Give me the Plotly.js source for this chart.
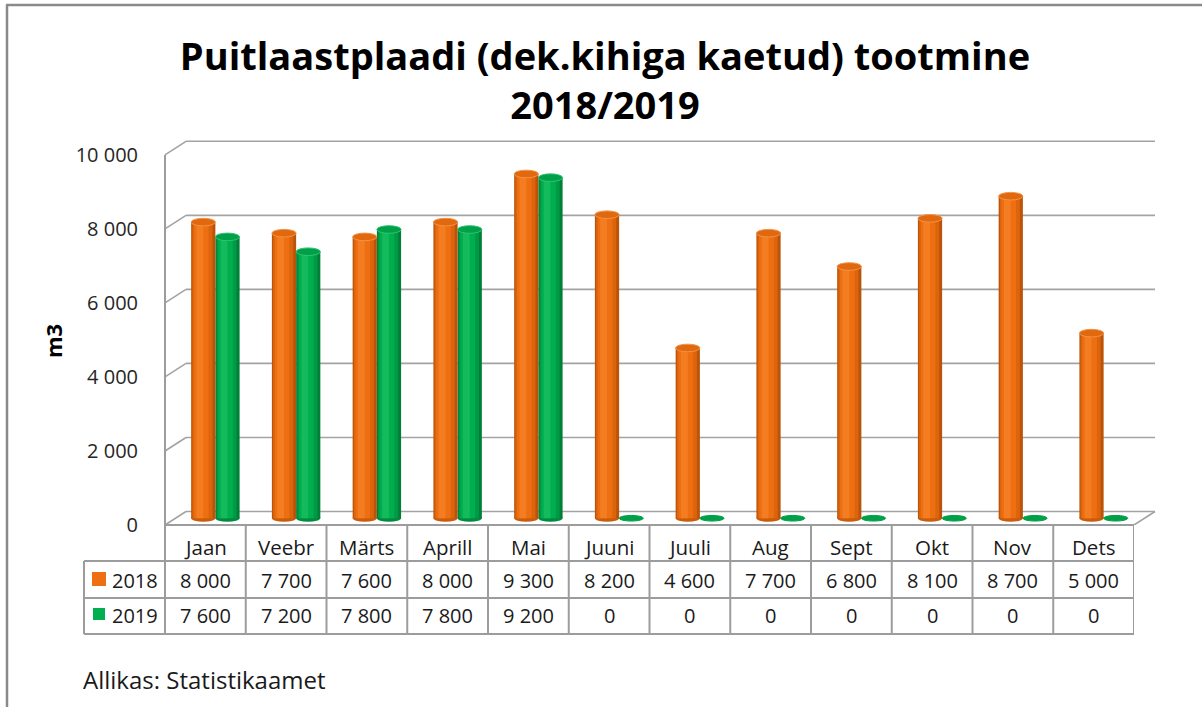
<!DOCTYPE html>
<html>
<head>
<meta charset="utf-8">
<script src="https://cdn.plot.ly/plotly-3.0.1.min.js"></script>
<style>html,body{margin:0;padding:0;background:#fff;}#chart{width:1202px;height:707px;}</style>
</head>
<body>
<div id="chart"></div>
<script>
// ---- data ----
const months = ["Jaan","Veebr","Märts","Aprill","Mai","Juuni","Juuli","Aug","Sept","Okt","Nov","Dets"];
const series2018 = [8000,7700,7600,8000,9300,8200,4600,7700,6800,8100,8700,5000];
const series2019 = [7600,7200,7800,7800,9200,0,0,0,0,0,0,0];
const seriesNames = ["2018","2019"];
const yTicks = [0,2000,4000,6000,8000,10000];
const titleText = "Puitlaastplaadi (dek.kihiga kaetud) tootmine<br>2018/2019";
const yTitle = "m3";
const sourceText = "Allikas: Statistikaamet";

// ---- geometry (pixels) ----
const L = 165, R = 1134, T = 140, B = 525;
const W = R - L, H = B - T;
const YMAX = 10400;
const colW = W / months.length;
const depthX = 21, depthY = 13.5;      // back plane offset
const midX = 10, midY = 6.75;           // bars at mid depth
const scaleY = H / YMAX;
const sx = midX / colW, dy = midY / scaleY;
const px = x => (x - L) / W;
const py = y => (B - y) / H;
const FONT = "'Open Sans', Lato, sans-serif";
const GRID = "#a3a3a3";
const TBL = "#9c9c9c";

const fmt = v => String(v).replace(/\B(?=(\d{3})+(?!\d))/g, " ");
const idx = months.map((_, i) => i);

const w = 0.30;
const styles = [
  {off: -w, bands: [[0,1,"#b9540a"],[0.05,0.88,"#dc640d"],[0.12,0.72,"#ee6f12"],[0.22,0.5,"#f47d22"]],
   top: "#e0680f", rim: "#f59244", bottom: "#c95c0b", key: "#ee6f12"},
  {off: 0, bands: [[0,1,"#007f38"],[0.05,0.88,"#009a45"],[0.12,0.72,"#00ad4f"],[0.22,0.5,"#14bb5c"]],
   top: "#00a048", rim: "#2fc46e", bottom: "#008a3e", key: "#00b050"}
];
const allSeries = [series2018, series2019];

const traces = [];
const shapes = [];
const annotations = [];

// back-plane gridlines with left diagonals
yTicks.forEach(t => {
  shapes.push({type:"line", layer:"below", xref:"paper", yref:"y", xsizemode:"pixel", ysizemode:"pixel",
    xanchor:0, yanchor:t, x0:depthX, x1:W + depthX, y0:depthY, y1:depthY, line:{color:GRID, width:1.6}});
  shapes.push({type:"line", layer:"below", xref:"paper", yref:"y", xsizemode:"pixel", ysizemode:"pixel",
    xanchor:0, yanchor:t, x0:0, x1:depthX, y0:0, y1:depthY, line:{color:GRID, width:1.6}});
});
// right floor diagonal
shapes.push({type:"line", layer:"below", xref:"paper", yref:"y", xsizemode:"pixel", ysizemode:"pixel",
  xanchor:1, yanchor:0, x0:0, x1:depthX, y0:0, y1:depthY, line:{color:GRID, width:1.6}});

// bars (green first, orange in front)
[1,0].forEach(s => {
  const st = styles[s];
  st.bands.forEach(b => {
    traces.push({type:"bar", x:idx, y:allSeries[s], xaxis:"x2", yaxis:"y2",
      width:w*(b[1]-b[0]), offset:st.off + w*b[0],
      marker:{color:b[2], line:{width:0}}, hoverinfo:"skip", showlegend:false});
  });
  allSeries[s].forEach((v, i) => {
    if (v > 0) shapes.push({type:"circle", layer:"below", xref:"x2", yref:"y2", ysizemode:"pixel", yanchor:0,
      x0:i + st.off, x1:i + st.off + w, y0:-3.5, y1:3.5, fillcolor:st.bottom, line:{width:0}});
    const hh = v > 0 ? 3.8 : 2.8;
    shapes.push({type:"circle", layer:"above", xref:"x2", yref:"y2", ysizemode:"pixel", yanchor:v,
      x0:i + st.off, x1:i + st.off + w, y0:-hh, y1:hh, fillcolor:st.top,
      line:{color: v > 0 ? st.rim : st.top, width:1}});
  });
});

// ---- data table ----
const rowY = [525, 561, 598, 634];
shapes.push({type:"line", xref:"paper", yref:"paper", x0:0, x1:1, y0:py(rowY[0]), y1:py(rowY[0]), line:{color:TBL, width:2}});
for (let r = 1; r < rowY.length; r++) {
  shapes.push({type:"line", xref:"paper", yref:"paper", x0:px(84), x1:1, y0:py(rowY[r]), y1:py(rowY[r]), line:{color:TBL, width:2}});
}
shapes.push({type:"line", xref:"paper", yref:"paper", x0:px(84), x1:px(84), y0:py(rowY[1]), y1:py(rowY[3]), line:{color:TBL, width:2}});
shapes.push({type:"line", xref:"paper", yref:"paper", x0:0, x1:0, y0:py(155), y1:py(rowY[3]), line:{color:TBL, width:2}});
for (let k = 1; k <= months.length; k++) {
  shapes.push({type:"line", xref:"x", yref:"paper", x0:k - 0.5, x1:k - 0.5, y0:py(rowY[0]), y1:py(rowY[3]), line:{color:TBL, width:2}});
}
const textY = [547, 580, 615];
const TFONT = {family:FONT, size:20, color:"#1a1a1a"};
months.forEach((m, i) => {
  annotations.push({xref:"x", yref:"paper", x:i, y:py(textY[0]), yanchor:"middle", xanchor:"center", text:m, showarrow:false,
    font:{family:FONT, size:20.5, color:"#1a1a1a"}});
  allSeries.forEach((ser, s) => {
    annotations.push({xref:"x", yref:"paper", x:i, y:py(textY[s+1]), yanchor:"middle", xanchor:"center",
      text:fmt(ser[i]), showarrow:false, font:TFONT});
  });
});
seriesNames.forEach((n, s) => {
  const cy = textY[s+1] - 1;
  const hs = s === 0 ? 7 : 6;
  shapes.push({type:"rect", xref:"paper", yref:"paper", x0:px(99 - hs), x1:px(99 + hs), y0:py(cy + hs), y1:py(cy - hs),
    fillcolor:styles[s].key, line:{width:0}});
  annotations.push({xref:"paper", yref:"paper", x:px(110), y:py(textY[s+1]), xanchor:"left", yanchor:"middle",
    text:n, showarrow:false, font:TFONT});
});

annotations.push({xref:"paper", yref:"paper", x:px(53), y:py(341), xanchor:"center", yanchor:"middle",
  text:"<b>" + yTitle + "</b>", textangle:-90, showarrow:false, font:{family:FONT, size:22, color:"#000"}});
annotations.push({xref:"paper", yref:"paper", x:px(81), y:py(679), xanchor:"left", yanchor:"middle",
  text:sourceText, showarrow:false, font:{family:FONT, size:24, color:"#1a1a1a"}});

// outer frame
shapes.push({type:"line", xref:"paper", yref:"paper", x0:px(6), x1:px(1202), y0:py(5), y1:py(5), line:{color:"#8a8a8a", width:2.5}});
shapes.push({type:"line", xref:"paper", yref:"paper", x0:px(7), x1:px(7), y0:py(5), y1:py(707), line:{color:"#8a8a8a", width:2.5}});

const layout = {
  width:1202, height:707,
  margin:{l:L, r:1202 - R, t:T, b:707 - B, pad:0},
  paper_bgcolor:"#fff", plot_bgcolor:"rgba(0,0,0,0)",
  separators:", ",
  barmode:"overlay",
  showlegend:false,
  title:{text:"<b>" + titleText + "</b>", x:605/1202, xanchor:"center", xref:"container",
    y:1 - 70/707, yanchor:"middle", yref:"container", font:{family:FONT, size:38, color:"#000"}},
  xaxis:{range:[-0.5, months.length - 0.5], showgrid:false, zeroline:false, showline:false, showticklabels:false, ticks:"", fixedrange:true},
  xaxis2:{overlaying:"x", range:[-0.5 - sx, months.length - 0.5 - sx], visible:false, fixedrange:true},
  yaxis:{range:[0, YMAX], tickvals:yTicks, tickformat:",d", showgrid:false, zeroline:false, showline:false,
    ticks:"outside", ticklen:22, tickcolor:"rgba(0,0,0,0)", tickfont:{family:FONT, size:20, color:"#262626"}, fixedrange:true},
  yaxis2:{overlaying:"y", range:[-dy, YMAX - dy], visible:false, fixedrange:true},
  shapes:shapes,
  annotations:annotations
};

Plotly.newPlot("chart", traces, layout, {displayModeBar:false, staticPlot:true});
</script>
</body>
</html>
